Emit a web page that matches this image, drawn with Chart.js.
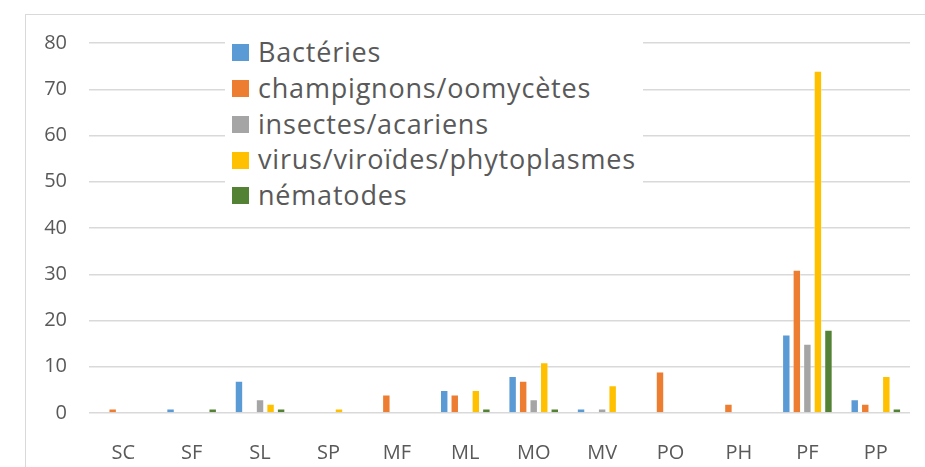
<!DOCTYPE html>
<html>
<head>
<meta charset="utf-8">
<script src="https://cdn.jsdelivr.net/npm/chart.js@4"></script>
<style>
body { margin: 0; background: #fff; }
#wrap { position: relative; width: 925px; height: 467px; overflow: hidden; }
#frame { position: absolute; left: 25px; top: 14px; width: 1000px; height: 600px; border-left: 1.5px solid #d9d9d9; border-top: 1.5px solid #d9d9d9; }
#chart { position: absolute; left: 0; top: 0; }
#legend { position: absolute; left: 225px; top: 30px; width: 418px; height: 186px; background: #fff; font-family: 'Open Sans'; font-size: 27px; letter-spacing: 0.8px; color: #595959; }
.item { position: absolute; left: 7px; height: 36px; line-height: 36px; white-space: nowrap; }
.box { display: inline-block; width: 17px; height: 17px; margin-right: 9px; vertical-align: middle; position: relative; top: -2px; }
</style>
</head>
<body>
<div id="wrap">
  <div id="frame"></div>
  <canvas id="chart" width="925" height="467"></canvas>
  <div id="legend"></div>
</div>
<script>
const categories = ['SC', 'SF', 'SL', 'SP', 'MF', 'ML', 'MO', 'MV', 'PO', 'PH', 'PF', 'PP'];
const bacteries = [0, 1, 7, 0, 0, 5, 8, 1, 0, 0, 17, 3];
const champignons = [1, 0, 0, 0, 4, 4, 7, 0, 9, 2, 31, 2];
const insectes = [0, 0, 3, 0, 0, 0, 3, 1, 0, 0, 15, 0];
const virus = [0, 0, 2, 1, 0, 5, 11, 6, 0, 0, 74, 8];
const nematodes = [0, 1, 1, 0, 0, 1, 1, 0, 0, 0, 18, 1];
const yTicks = [0, 10, 20, 30, 40, 50, 60, 70, 80];

const textColor = '#595959';
const tickFont = { family: 'Open Sans', size: 20 };

const series = [
    { label: 'Bactéries', data: bacteries, color: '#5B9BD5' },
    { label: 'champignons/oomycètes', data: champignons, color: '#ED7D31' },
    { label: 'insectes/acariens', data: insectes, color: '#A5A5A5' },
    { label: 'virus/viroïdes/phytoplasmes', data: virus, color: '#FFC000' },
    { label: 'nématodes', data: nematodes, color: '#548235' }
];

const ctx = document.getElementById('chart').getContext('2d');
const chart = new Chart(ctx, {
    type: 'bar',
    data: {
        labels: categories,
        datasets: series.map(s => ({
            label: s.label,
            data: s.data,
            backgroundColor: s.color,
            borderColor: 'rgba(255, 255, 255, 0.35)',
            borderWidth: 1,
            categoryPercentage: 0.77,
            barPercentage: 0.8
        }))
    },
    options: {
        responsive: false,
        animation: false,
        layout: { padding: { top: 43, right: 15, left: 0, bottom: 0 } },
        plugins: {
            legend: { display: false },
            tooltip: { enabled: false }
        },
        scales: {
            x: {
                grid: { display: false },
                border: { display: false },
                ticks: { color: textColor, font: tickFont, padding: 20 },
                afterFit(s) { s.height = 54; }
            },
            y: {
                min: yTicks[0],
                max: yTicks[yTicks.length - 1],
                afterBuildTicks(s) { s.ticks = yTicks.map(v => ({ value: v })); },
                grid: { color: '#d9d9d9', lineWidth: 1.5, drawTicks: false },
                border: { display: false },
                ticks: { color: textColor, font: tickFont, padding: 22 },
                afterFit(s) { s.width = 89; }
            }
        }
    }
});

// legend drawn over the plot, like the original
const legend = document.getElementById('legend');
chart.data.datasets.forEach((ds, i) => {
    const item = document.createElement('div');
    item.className = 'item';
    item.style.top = (4 + i * 35.8) + 'px';
    const box = document.createElement('span');
    box.className = 'box';
    box.style.background = ds.backgroundColor;
    item.appendChild(box);
    item.appendChild(document.createTextNode(ds.label));
    legend.appendChild(item);
});
</script>
</body>
</html>
